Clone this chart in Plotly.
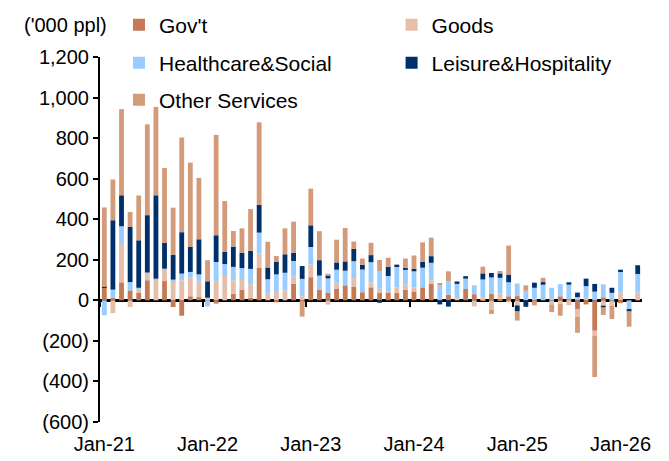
import plotly.graph_objects as go

months = [f"{m}-{y}" for y in range(21, 27) for m in
          ["Jan", "Feb", "Mar", "Apr", "May", "Jun", "Jul", "Aug", "Sep", "Oct", "Nov", "Dec"]][:63]

gov = [63, 12, 89, 49, 36, 99, 0, 95, -33, -76, 20, 16,
       5, -16, 0, 33, 51, 13, 161, 0, -10, 0, 82, 0,
       114, 53, 36, 56, 74, 66, 40, 64, 36, 40, 36, 53,
       44, 64, 81, 0, 28, 0, 56, 30, 5, 31, 8, 20,
       21, 0, 0, 0, 0, 20, 5, -45, -20, -150, 15, 0,
       -14, 0, 0]
goods = [0, -63, 194, -33, 16, 38, 102, 61, 95, 99, 92, 77,
         8, 92, 120, 66, 54, 66, 71, 35, 46, 49, 35, 20,
         63, 0, -21, 26, 0, 43, 0, 25, 21, 5, 28, 25,
         20, 0, 18, 0, 0, 10, 0, -30, 8, -45, 25, -10,
         -25, 0, 0, 0, -20, -16, -24, -37, 16, -23, -26, -27,
         38, 0, 39]
health = [-74, 41, 82, 41, 10, 0, 5, 0, 7, 33, 28, 35,
          -30, 97, 59, 66, 54, 76, 102, 69, 82, 87, 77, 86,
          86, 69, 72, 69, 72, 84, 112, 99, 86, 75, 105, 72,
          79, 97, 86, 80, 66, 71, 51, 44, 90, 82, 78, 69,
          62, 47, 62, 77, 62, 60, 72, 16, 54, 43, 64, 37,
          105, -43, 91]
leisure = [3, 342, 153, 272, 234, 283, 411, 127, 123, 204, 123, 173,
           81, 132, 61, 100, 76, 89, 137, 58, 63, 91, 41, 63,
           107, 76, 16, 36, 46, 61, 23, 35, -12, 46, 7, 10,
           12, 28, 33, -20, -31, 12, 12, 0, 30, 22, 22, 38,
           -30, -32, 25, 13, 0, 0, 12, 22, 37, 38, -10, 25,
           8, -12, 43]
other = [392, 201, 425, 74, 221, 448, 436, 370, 232, 467, 416, 303,
         104, 495, 250, 77, 120, 206, 407, 127, 28, 128, 153, -80,
         181, 143, 7, 112, 165, 36, 31, 61, 56, 44, 0, 46,
         66, 97, 91, 3, 49, 0, 0, 0, 33, -22, 12, 143,
         -45, 27, -25, 21, -38, -60, 0, -78, 0, -205, -36, -65,
         0, -75, 0]

series_names = ["Gov't", "Goods", "Healthcare&Social", "Leisure&Hospitality", "Other Services"]
series_vals = [gov, goods, health, leisure, other]
colors = ["#C47A55", "#E6BFAA", "#99CCFF", "#00306B", "#D49B7B"]
legend_ids = ["legend", "legend2", "legend3", "legend4", "legend5"]
# legend grid: (column x in paper, row y in paper)
legend_pos = [(0.035, (414 - 17) / 365), (0.538, (414 - 17) / 365),
              (0.035, (414 - 55) / 365), (0.538, (414 - 55) / 365),
              (0.035, (414 - 92) / 365)]

y_ticks = [1200, 1000, 800, 600, 400, 200, 0, -200, -400, -600]
y_labels = ["1,200", "1,000", "800", "600", "400", "200", "0", "(200)", "(400)", "(600)"]

x = list(range(len(months)))
jan_idx = [i for i, m in enumerate(months) if m.startswith("Jan")]
jan_labels = [months[i] for i in jan_idx]

FONT = "Liberation Sans, Arial, sans-serif"

fig = go.Figure()
for name, vals, col, lg in zip(series_names, series_vals, colors, legend_ids):
    fig.add_trace(go.Bar(x=x, y=vals, name=name, marker_color=col,
                         marker_line_width=0, legend=lg))

# invisible trace to carry the boundary tick-mark axis
fig.add_trace(go.Scatter(x=[x[0]], y=[0], xaxis="x2", mode="markers",
                         marker=dict(opacity=0), showlegend=False, hoverinfo="skip"))

legends = {}
for lg, (lx, ly) in zip(legend_ids, legend_pos):
    legends[lg] = dict(orientation="h", x=lx, y=ly, xanchor="left", yanchor="middle",
                       bgcolor="rgba(0,0,0,0)", font=dict(size=21), itemwidth=30)

fig.update_layout(
    width=661, height=453,
    margin=dict(l=92, r=27, t=49, b=39, autoexpand=False),
    paper_bgcolor="white", plot_bgcolor="white",
    barmode="relative", bargap=0.44,
    font=dict(family=FONT, size=20, color="black"),
    xaxis=dict(range=[-0.5, len(x) - 0.5], tickvals=jan_idx, ticktext=jan_labels,
               showgrid=False, showline=False, ticks="", zeroline=False,
               ticklabelstandoff=8, tickfont=dict(size=20)),
    xaxis2=dict(range=[-0.5, len(x) - 0.5], overlaying="x", anchor="free",
                position=600 / 1800, side="bottom",
                tickvals=[i - 0.5 for i in jan_idx], ticktext=["" for _ in jan_idx],
                ticks="outside", ticklen=6, tickwidth=2, tickcolor="black",
                showgrid=False, showline=False, zeroline=False),
    yaxis=dict(range=[-600, 1200], tickvals=y_ticks, ticktext=y_labels,
               showgrid=False, showline=True, linecolor="black", linewidth=2,
               ticks="outside", ticklen=5, tickwidth=2, tickcolor="black",
               zeroline=True, zerolinecolor="black", zerolinewidth=2.5,
               tickfont=dict(size=20)),
    annotations=[dict(text="('000 ppl)", xref="paper", yref="paper",
                      x=-0.064, y=(414 - 17) / 365, xanchor="center", yanchor="middle",
                      showarrow=False, font=dict(size=20))],
    **legends,
)

fig.write_html("out.html")
